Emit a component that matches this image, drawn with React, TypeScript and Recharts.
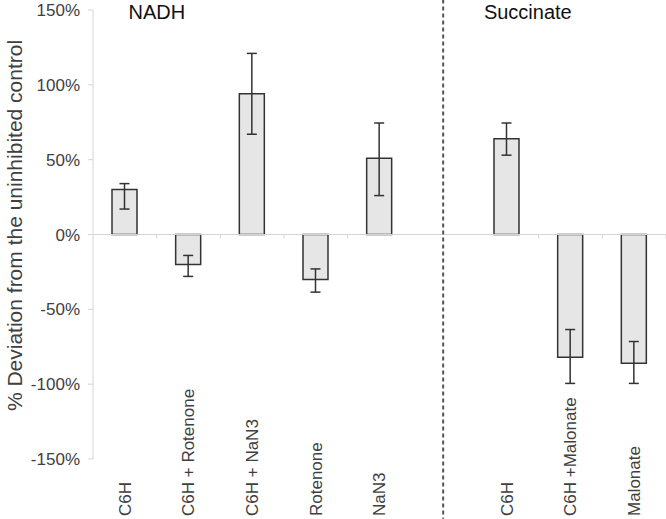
import {
  BarChart,
  Bar,
  XAxis,
  YAxis,
  ErrorBar,
  ReferenceLine,
  ReferenceDot,
} from "recharts";

const categories = [
  "C6H",
  "C6H + Rotenone",
  "C6H + NaN3",
  "Rotenone",
  "NaN3",
  "",
  "C6H",
  "C6H +Malonate",
  "Malonate",
];
const deviation = [30, -20, 94, -30, 51, null, 64, -82, -86];
const errLow = [13, 8, 27, 8.5, 25, null, 11, 17.5, 13.5];
const errHigh = [4, 6, 27, 7, 23.5, null, 10.5, 18.5, 14.5];
const yTicks = [-150, -100, -50, 0, 50, 100, 150];
// bands whose left edge carries a small tick on the zero line
const tickedBands = ["1", "2", "3", "4", "7", "8"];

const data = categories.map((name, i) => ({
  key: `${i}`,
  name,
  value: deviation[i],
  err: errLow[i] == null ? null : [errLow[i], errHigh[i]],
}));

const font = "Arial, 'Liberation Sans', sans-serif";
const axisGray = "#d4d4d4";
const textGray = "#404040";

const CategoryTick = (props: any) => {
  const { x, y, payload } = props;
  const label = categories[Number(payload.value)];
  return (
    <text
      transform={`translate(${x},${y + 57}) rotate(-90)`}
      textAnchor="start"
      dy="0.35em"
      fontSize={17}
      fontFamily={font}
      fill={textGray}
    >
      {label}
    </text>
  );
};

const YTitle = (props: any) => {
  const vb = props.viewBox || {};
  const cx = vb.x + 14;
  const cy = vb.y + vb.height / 2 - 9;
  return (
    <text
      transform={`translate(${cx},${cy}) rotate(-90)`}
      textAnchor="middle"
      dominantBaseline="central"
      fontSize={21}
      fontFamily={font}
      fill={textGray}
    >
      % Deviation from the uninhibited control
    </text>
  );
};

const titleStyle = { position: "center" as const, fontSize: 20, fontFamily: font, fill: "#111" };

export default function App() {
  return (
    <div style={{ position: "absolute", left: 0, top: 0, background: "#fff" }}>
      <BarChart
        width={666}
        height={519}
        data={data}
        margin={{ top: 10, right: 0, bottom: 0, left: 0 }}
      >
        <XAxis
          dataKey="key"
          height={60}
          axisLine={false}
          tickLine={false}
          tickSize={0}
          tickMargin={0}
          interval={0}
          tick={<CategoryTick />}
        />
        <YAxis
          width={93}
          domain={[-150, 150]}
          ticks={yTicks}
          tickFormatter={(v) => `${v}%`}
          axisLine={{ stroke: axisGray }}
          tickLine={{ stroke: axisGray }}
          tickSize={5}
          tickMargin={8}
          tick={{ fill: textGray, fontSize: 17, fontFamily: font }}
          label={<YTitle />}
        />
        <ReferenceLine y={0} stroke={axisGray} strokeWidth={1} />
        {tickedBands.map((b) => (
          <ReferenceLine
            key={b}
            position="start"
            segment={[
              { x: b, y: 0 },
              { x: b, y: -2.7 },
            ]}
            stroke={axisGray}
            ifOverflow="visible"
          />
        ))}
        <ReferenceLine
          position="end"
          segment={[
            { x: "8", y: 0 },
            { x: "8", y: -2.7 },
          ]}
          stroke={axisGray}
          ifOverflow="visible"
        />
        <ReferenceLine
          position="middle"
          segment={[
            { x: "5", y: 157 },
            { x: "5", y: -190 },
          ]}
          stroke="#555"
          strokeWidth={2}
          strokeDasharray="4 3"
          ifOverflow="visible"
        />
        <ReferenceDot
          x="0"
          y={149}
          r={0}
          fill="none"
          stroke="none"
          ifOverflow="visible"
          label={{ value: "NADH", dx: 32, ...titleStyle }}
        />
        <ReferenceDot
          x="6"
          y={149}
          r={0}
          fill="none"
          stroke="none"
          ifOverflow="visible"
          label={{ value: "Succinate", dx: 21, ...titleStyle }}
        />
        <Bar
          dataKey="value"
          barSize={25}
          fill="#e6e6e6"
          stroke="#333"
          strokeWidth={1.5}
          isAnimationActive={false}
        >
          <ErrorBar dataKey="err" width={5} stroke="#333" strokeWidth={1.5} />
        </Bar>
      </BarChart>
    </div>
  );
}
